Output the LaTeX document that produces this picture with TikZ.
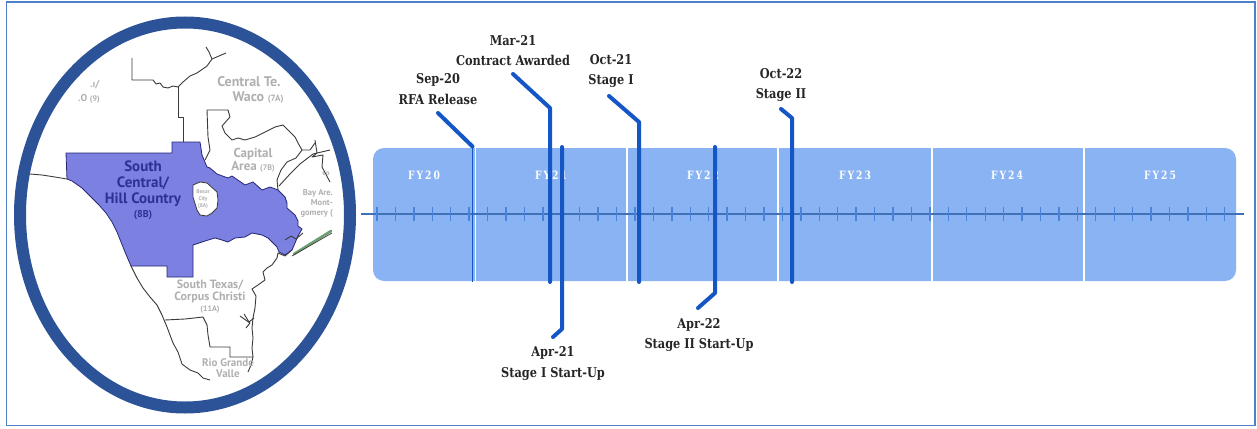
\documentclass[tikz,border=0pt]{standalone}
\usepackage{fontspec}
\setmainfont{DejaVu Serif}
\newfontfamily\labfont{DejaVu Serif}[FakeStretch=0.84]
\newfontfamily\fyfont{DejaVu Serif}[FakeStretch=0.8,LetterSpace=18]
\newfontfamily\mapfont{PT Sans}
\definecolor{bandc}{HTML}{89B3F2}
\definecolor{axisc}{HTML}{4A84DA}
\definecolor{mkblue}{HTML}{1556C6}
\definecolor{ringc}{HTML}{2C5298}
\definecolor{framec}{HTML}{4F7FC9}
\definecolor{purp}{HTML}{7C80E0}
\definecolor{purpt}{HTML}{2E3192}
\definecolor{maptx}{HTML}{B0B0B0}
\definecolor{borderc}{HTML}{3A3A3A}
\definecolor{islandc}{HTML}{6E9E74}
\tikzset{
  marker/.style={mkblue, line width=4pt, line cap=round, line join=round},
  thinmarker/.style={mkblue, line width=1.3pt},
  lbl/.style={font=\labfont\bfseries\fontsize{13.5}{20.5}\selectfont, align=center, inner sep=0pt, text=black!85},
  fylbl/.style={font=\fyfont\bfseries\fontsize{11.5}{13}\selectfont, text=white, inner sep=0pt},
  sep/.style={white, line width=1.5pt},
  tick/.style={axisc, line width=1.4pt},
  region/.style={borderc, line width=0.9pt, line join=round},
  maplbl/.style={font=\mapfont\bfseries, text=maptx, align=center, inner sep=0pt},
}
\begin{document}
\begin{tikzpicture}[x=1pt,y=-1pt]
\useasboundingbox (0,0) rectangle (1257,428);
% outer frame
\draw[framec, line width=1.2pt] (6.5,2) rectangle (1255,425.5);

% ---------------- map ----------------
\fill[white] (185,215) ellipse [x radius=165, y radius=192.5];
\begin{scope}
\clip (185,215) ellipse [x radius=159, y radius=186.5];
% purple region 8B
\filldraw[fill=purp, draw=purpt!80!black, line width=0.8pt, line join=round]
 (66,153) -- (172,153) -- (172,142) -- (200,142) -- (202,155) -- (207,167) -- (210,168)
 -- (217,174) -- (228,178) -- (232,176) -- (245,185) -- (253,182) -- (262,190) -- (270,187)
 -- (278,190) -- (285,197) -- (287,203) -- (287,208) -- (295,215) -- (298,221) -- (298,226)
 -- (302,229) -- (298,236) -- (295,243) -- (292,250) -- (285,255) -- (279,252) -- (277,247)
 -- (268,238) -- (262,235) -- (252,233) -- (245,237) -- (235,238) -- (228,242) -- (222,240)
 -- (215,238) -- (205,241) -- (193,245) -- (193,277) -- (167,277) -- (167,266) -- (131,266)
 -- (125,252) -- (121,242) -- (117,232) -- (112,222) -- (106,213) -- (99,205) -- (90,196)
 -- (82,188) -- (72,181) -- (67,179) -- cycle;
% Bexar hole 8A
\filldraw[fill=white, draw=borderc, line width=0.8pt, line join=round]
 (193,185) -- (200,182) -- (207,183) -- (217,192) -- (218,200) -- (217,208) -- (212,213)
 -- (207,216) -- (200,215) -- (197,210) -- (193,197) -- cycle;
% river / western border
\draw[region] (30,174) -- (42,175) -- (55,177) -- (67,179);
\draw[region] (131,266) -- (137,278) -- (143,288) -- (150,297) -- (157,305) -- (162,315)
 -- (167,327) -- (173,343) -- (178,352) -- (182,364) -- (190,370) -- (198,373) -- (203,378) -- (210,380);
% northern lines
\draw[region] (132,58) -- (132,80) -- (153,80) -- (156,84) -- (160,83) -- (163,87) -- (168,88)
 -- (173,86) -- (178,87) -- (183,82) -- (190,76) -- (197,73) -- (207,66) -- (212,59) -- (209,52) -- (206,47);
\draw[region] (212,59) -- (219,56) -- (226,53);
\draw[region] (178,87) -- (178,117) -- (183,117) -- (183,142);
% capital area
\draw[region] (205,160) -- (210,150) -- (208,137) -- (207,110) -- (228,110) -- (230,117) -- (222,126)
 -- (225,133) -- (232,140) -- (238,138) -- (245,140) -- (255,137) -- (265,132) -- (275,127)
 -- (283,125) -- (290,132) -- (295,137) -- (298,143) -- (302,150) -- (310,150) -- (315,143);
\draw[region] (302,150) -- (296,158) -- (287,162) -- (281,170) -- (277,180) -- (278,190);
\draw[region] (279,186) -- (290,174) -- (300,164) -- (313,154) -- (330,150);
% bay area lines
\draw[region] (315,140) -- (317,153) -- (312,157) -- (323,155) -- (322,167) -- (330,182);
% coast
\draw[region] (292,250) -- (285,256) -- (278,253) -- (277,258) -- (272,265) -- (267,268) -- (263,272)
 -- (265,280) -- (258,285) -- (252,289) -- (256,296) -- (255,308) -- (253,318) -- (252,328)
 -- (253,338) -- (252,348) -- (253,357) -- (251,365) -- (248,372);
\draw[region] (240,316) -- (250,323) -- (246,328);
\draw[region] (244,314) -- (249,322) -- (254,318);
\draw[region] (285,240) -- (291,236) -- (296,239) -- (303,233);
% south texas / rio grande
\draw[region] (165,320) -- (185,319) -- (203,317) -- (207,325) -- (208,335) -- (210,347)
 -- (230,347) -- (230,357) -- (253,357);
% island
\draw[islandc, line width=2.6pt, line cap=round] (294,254) -- (331,231);
\draw[borderc, line width=0.7pt] (292,256) -- (332,233);
% labels
\node[font=\mapfont\bfseries\fontsize{15}{16}\selectfont, text=purpt, align=center, inner sep=0pt]
  (m8b) at (143,190) {South\\Central/\\Hill Country\\[-2pt]{\fontsize{10}{11}\selectfont (8B)}};
\node[maplbl, font=\mapfont\bfseries\fontsize{14}{15}\selectfont] (m7a) at (249,90)
  {Central Te.\\\hspace*{18pt}Waco {\fontsize{9}{10}\selectfont (7A)}};
\node[maplbl, font=\mapfont\bfseries\fontsize{13}{13}\selectfont] (m7b) at (253,160)
  {Capital\\Area {\fontsize{8}{9}\selectfont (7B)}};
\node[maplbl, font=\mapfont\bfseries\fontsize{8.5}{10}\selectfont, align=right, anchor=east] (mbay) at (333,203)
  {Bay Are.\\Mont-\\gomery (};
\node[maplbl, font=\mapfont\bfseries\fontsize{7}{8}\selectfont] (mco) at (326,173) {Co};
\node[maplbl, font=\mapfont\bfseries\fontsize{12}{11.5}\selectfont] (m11a) at (210,297)
  {South Texas/\\Corpus Christi\\{\fontsize{8}{9}\selectfont (11A)}};
\node[maplbl, font=\mapfont\bfseries\fontsize{11}{11}\selectfont] (mrio) at (228,368)
  {Rio Grande\\Valle};
\node[maplbl, font=\mapfont\bfseries\fontsize{10}{14}\selectfont, align=left, anchor=west] (m9) at (78,92)
  {\hspace*{12pt}.ı/\\.O {\fontsize{8}{9}\selectfont (9)}};
\node[maplbl, font=\mapfont\bfseries\fontsize{5.5}{7}\selectfont] (m8a) at (203,199)
  {Bexar\\City\\(8A)};
\end{scope}
\draw[ringc, line width=12pt] (185,215) ellipse [x radius=165, y radius=192.5];

% ---------------- timeline ----------------
\fill[bandc, rounded corners=11pt] (373,148) rectangle (1236,281);
\foreach \sx in {475.5,627,778,932,1084}
  \draw[sep] (\sx,148) -- (\sx,281);
\draw[axisc!85!black, line width=1.3pt] (361,214) -- (1244,214);
\foreach \k in {0,...,46}
  \draw[tick] ({377+18.43*\k},207) -- ({377+18.43*\k},221);

\node[fylbl] (fy20) at (424,175) {FY\,20};
\node[fylbl] (fy21) at (551,175) {FY\,21};
\node[fylbl] (fy22) at (703,175) {FY\,22};
\node[fylbl] (fy23) at (855,175) {FY\,23};
\node[fylbl] (fy24) at (1007,175) {FY\,24};
\node[fylbl] (fy25) at (1160,175) {FY\,25};

% milestone labels
\node[lbl] (l1) at (438,89) {Sep-20\\RFA Release};
\node[lbl] (l2) at (513,50.5) {Mar-21\\Contract Awarded};
\node[lbl] (l3) at (553,363.5) {Apr-21\\Stage I Start-Up};
\node[lbl] (l4) at (611,71) {Oct-21\\Stage I};
\node[lbl] (l5) at (699,335) {Apr-22\\Stage II Start-Up};
\node[lbl] (l6) at (781,85) {Oct-22\\Stage II};

% marker coordinates
\coordinate (a1) at (438,113); \coordinate (b1) at (472.5,146.5); \coordinate (c1) at (472.5,282);
\coordinate (a2) at (513,74);  \coordinate (b2) at (550,108);  \coordinate (c2) at (550,282);
\coordinate (a3) at (562,147); \coordinate (b3) at (562,329);  \coordinate (c3) at (553,337);
\coordinate (a4) at (609,96);  \coordinate (b4) at (639,122);  \coordinate (c4) at (639,282);
\coordinate (a5) at (715,147); \coordinate (b5) at (715,293);  \coordinate (c5) at (698,308);
\coordinate (a6) at (781,109); \coordinate (b6) at (792,118);  \coordinate (c6) at (792,282);

\draw[marker] (a1) -- (b1);
\draw[thinmarker] (b1) -- (c1);
\draw[marker] (a2) -- (b2) -- (c2);
\draw[marker] (a3) -- (b3) -- (c3);
\draw[marker] (a4) -- (b4) -- (c4);
\draw[marker] (a5) -- (b5) -- (c5);
\draw[marker] (a6) -- (b6) -- (c6);
\end{tikzpicture}
\end{document}
